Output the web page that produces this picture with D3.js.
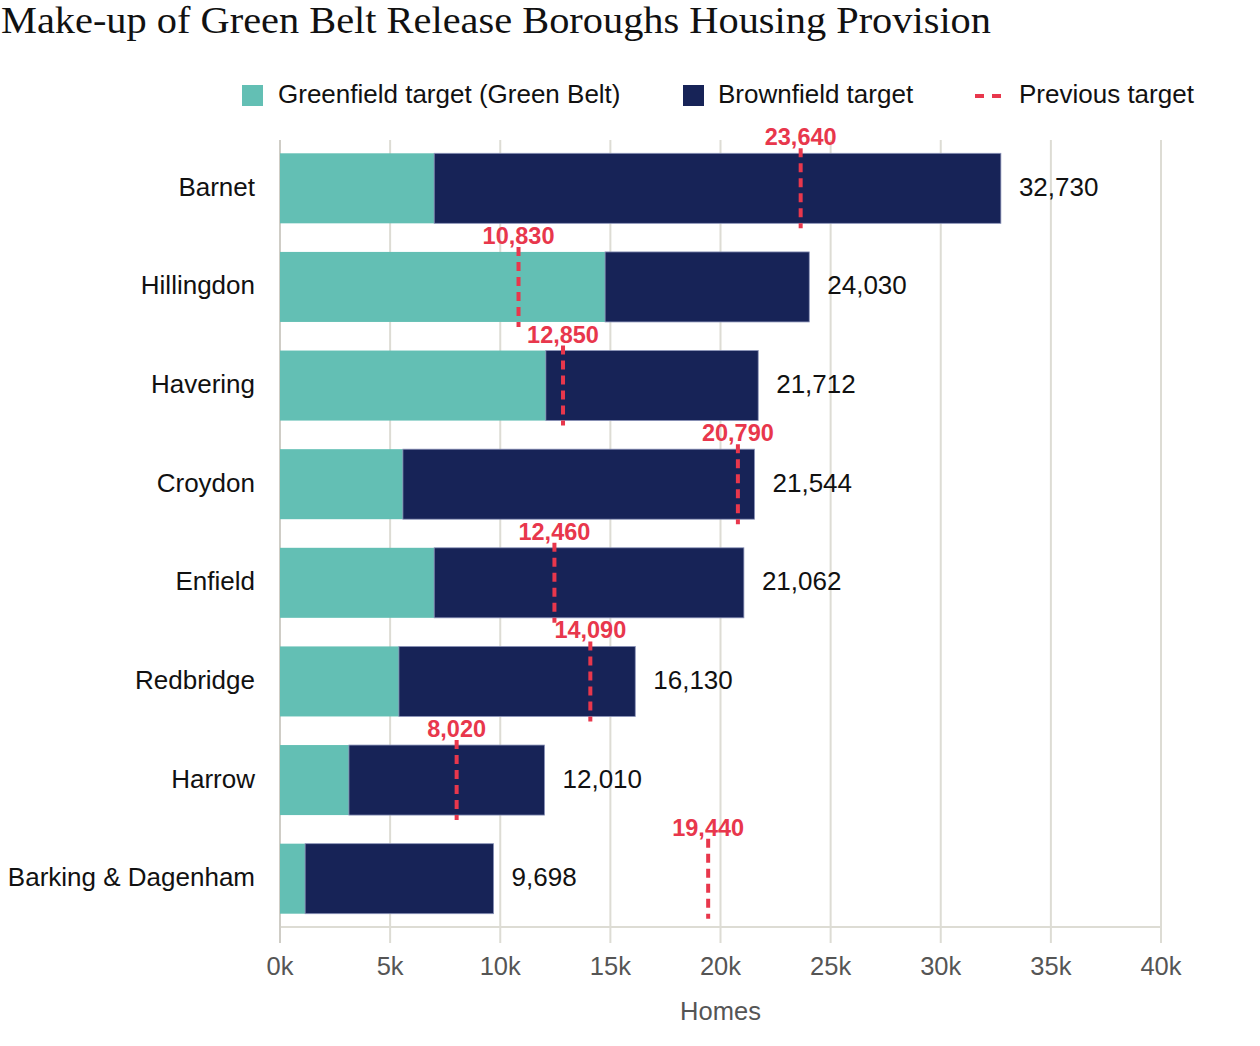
<!DOCTYPE html>
<html><head><meta charset="utf-8">
<script src="https://cdn.jsdelivr.net/npm/d3@7"></script>
<style>body{margin:0;background:#fff}svg{display:block}</style>
</head><body>
<script>
const categories = ["Barnet","Hillingdon","Havering","Croydon","Enfield","Redbridge","Harrow","Barking & Dagenham"];
const greenfield = [7000,14760,12070,5580,7000,5400,3130,1140];
const totals = [32730,24030,21712,21544,21062,16130,12010,9698];
const previous = [23640,10830,12850,20790,12460,14090,8020,19440];
const xTicks = [0,5000,10000,15000,20000,25000,30000,35000,40000];

const W=1260,H=1046;
const svg=d3.select("body").append("svg").attr("width",W).attr("height",H);
const font="'Liberation Sans', Arial, sans-serif";
const teal="#63bfb4", navy="#172357", red="#e8374c";

svg.append("text").attr("x",1).attr("y",33).text("Make-up of Green Belt Release Boroughs Housing Provision")
  .attr("font-family","'Liberation Serif','DejaVu Serif',serif").attr("font-size",38).attr("fill","#111")
  .attr("textLength",990).attr("lengthAdjust","spacingAndGlyphs");

const x=d3.scaleLinear().domain([0,40000]).range([280,1161]);
const y=d3.scaleBand().domain(categories).range([139,928]).paddingInner(0.29).paddingOuter(0.145);

// gridlines
const g=svg.append("g");
g.selectAll(".grid").data(xTicks).join("line")
  .attr("x1",d=>x(d)).attr("x2",d=>x(d)).attr("y1",140).attr("y2",943)
  .attr("stroke","#dddcd4").attr("stroke-width",2);
g.append("line").attr("x1",280).attr("x2",1161).attr("y1",927).attr("y2",927).attr("stroke","#dddcd4").attr("stroke-width",2);
g.append("line").attr("x1",280).attr("x2",280).attr("y1",140).attr("y2",943).attr("stroke","#cfcdc6").attr("stroke-width",2);

// tick labels
g.selectAll(".tl").data(xTicks).join("text")
  .attr("x",d=>x(d)).attr("y",975).attr("text-anchor","middle")
  .attr("font-family",font).attr("font-size",25.5).attr("fill","#555")
  .text(d=>(d/1000)+"k");
svg.append("text").attr("x",x(20000)).attr("y",1020).attr("text-anchor","middle")
  .attr("font-family",font).attr("font-size",25.5).attr("fill","#555").text("Homes");

const rows=categories.map((c,i)=>({c,g:greenfield[i],t:totals[i],p:previous[i]}));
const bars=svg.append("g");
bars.selectAll(".gf").data(rows).join("rect")
  .attr("x",x(0)).attr("y",d=>y(d.c)).attr("width",d=>x(d.g)-x(0)).attr("height",y.bandwidth())
  .attr("fill",teal);
bars.selectAll(".bf").data(rows).join("rect")
  .attr("x",d=>x(d.g)).attr("y",d=>y(d.c)).attr("width",d=>x(d.t)-x(d.g)).attr("height",y.bandwidth())
  .attr("fill",navy).attr("stroke","#8b93b8").attr("stroke-width",0.8);

// category labels
svg.selectAll(".cl").data(rows).join("text")
  .attr("x",255).attr("y",d=>y(d.c)+y.bandwidth()/2+7.5).attr("text-anchor","end")
  .attr("font-family",font).attr("font-size",26).attr("fill","#111").text(d=>d.c);
// value labels
svg.selectAll(".vl").data(rows).join("text")
  .attr("x",d=>x(d.t)+18).attr("y",d=>y(d.c)+y.bandwidth()/2+7.5)
  .attr("font-family",font).attr("font-size",26).attr("fill","#111").text(d=>d3.format(",")(d.t));

// previous target lines
svg.selectAll(".pl").data(rows).join("line")
  .attr("x1",d=>x(d.p)).attr("x2",d=>x(d.p)).attr("y1",d=>y(d.c)-5).attr("y2",d=>y(d.c)+y.bandwidth()+5)
  .attr("stroke",red).attr("stroke-width",4).attr("stroke-dasharray","9 6");
svg.selectAll(".plt").data(rows).join("text")
  .attr("x",d=>x(d.p)).attr("y",d=>y(d.c)-8).attr("text-anchor","middle")
  .attr("font-family",font).attr("font-size",23.5).attr("font-weight","bold").attr("fill",red)
  .text(d=>d3.format(",")(d.p));

// legend
const lg=svg.append("g").attr("font-family",font).attr("font-size",26).attr("fill","#111");
lg.append("rect").attr("x",242).attr("y",85).attr("width",21).attr("height",21).attr("fill",teal);
lg.append("text").attr("x",278).attr("y",103).text("Greenfield target (Green Belt)");
lg.append("rect").attr("x",683).attr("y",85).attr("width",21).attr("height",21).attr("fill",navy);
lg.append("text").attr("x",718).attr("y",103).text("Brownfield target");
lg.append("line").attr("x1",975).attr("x2",1001).attr("y1",96).attr("y2",96).attr("stroke",red).attr("stroke-width",4).attr("stroke-dasharray","9 8");
lg.append("text").attr("x",1019).attr("y",103).text("Previous target");
</script>
</body></html>
